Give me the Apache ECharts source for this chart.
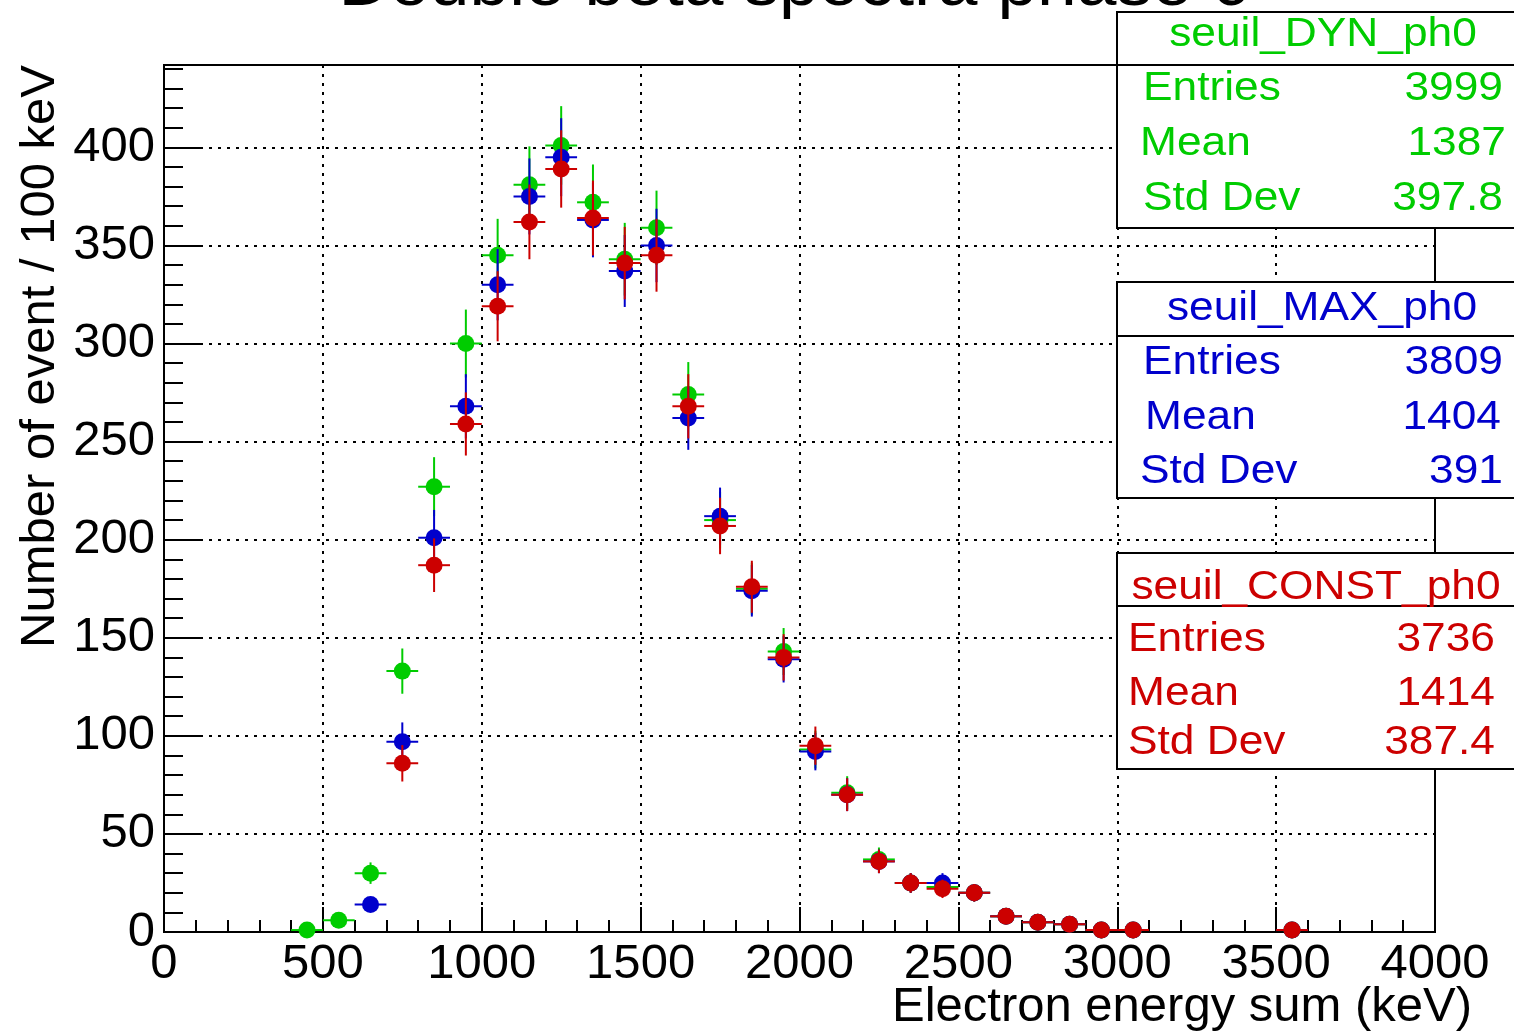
<!DOCTYPE html>
<html><head><meta charset="utf-8">
<script src="https://cdn.jsdelivr.net/npm/echarts@6/dist/echarts.min.js"></script>
<style>html,body{margin:0;padding:0;background:#fff}#c{width:1514px;height:1031px}</style>
</head><body><div id="c"></div>
<script>
// bin centres (keV), 100 keV bins
const binCenters = [450,550,650,750,850,950,1050,1150,1250,1350,1450,1550,1650,1750,1850,1950,2050,2150,2250,2350,2450,2550,2650,2750,2850,2950,3050,3150,3250,3350,3450,3550];
const dynCounts   = [1,6,30,133,227,300,345,381,401,372,343,359,274,210,175,143,93,71,37,25,23,20,8,5,4,1,1,null,null,null,null,1];
const maxCounts   = [null,null,14,97,201,268,330,375,395,363,337,350,262,212,174,139,92,70,36,25,25,20,8,5,4,1,1,null,null,null,null,1];
const constCounts = [null,null,null,86,187,259,319,362,389,364,341,345,268,207,176,140,95,70,36,25,22,20,8,5,4,1,1,null,null,null,null,1];
const binHalfWidth = 50;

const seriesNames = ['seuil_DYN_ph0','seuil_MAX_ph0','seuil_CONST_ph0'];
const seriesColors = ['#00cc00','#0000cc','#cc0000'];
const statEntries = ['3999','3809','3736'];
const statMean = ['1387','1404','1414'];
const statStd = ['397.8','391','387.4'];

const titleText = 'Double beta spectra phase 0';
const xTitle = 'Electron energy sum (keV)';
const yTitle = 'Number of event / 100 keV';

const FONT = "'Liberation Sans', Arial, Helvetica, sans-serif";

function toData(counts){
  const out = [];
  counts.forEach((v,i)=>{ if(v!==null) out.push([binCenters[i], v, Math.sqrt(v)]); });
  return out;
}
function makeRender(color){
  return function(params, api){
    const x=api.value(0), y=api.value(1), e=api.value(2);
    const c=api.coord([x,y]);
    const t=api.coord([x,y+e]);
    const b=api.coord([x,Math.max(0,y-e)]);
    const l=api.coord([x-binHalfWidth,y]);
    const r=api.coord([x+binHalfWidth,y]);
    return {type:'group', children:[
      {type:'line', shape:{x1:l[0],y1:c[1],x2:r[0],y2:c[1]}, style:{stroke:color,lineWidth:2}},
      {type:'line', shape:{x1:c[0],y1:t[1],x2:c[0],y2:b[1]}, style:{stroke:color,lineWidth:2}},
      {type:'circle', shape:{cx:c[0],cy:c[1],r:8.5}, style:{fill:color}}
    ]};
  };
}

function txt(x,y,text,color,size,align,opts){
  opts = opts||{};
  return {type:'text', x:x, y:y, z:200, scaleX:opts.scaleX||1, rotation:opts.rotation||0,
    style:{text:text, x:0, y:0, fill:color, font: size+'px '+FONT,
      textAlign:align, align:align, textVerticalAlign:'middle', verticalAlign:'middle'}};
}

const boxes = [
  {top:12, sep:65, bottom:228, titleX:1323, titleY:35, labelX:[1143,1140,1143], valueX:[1503,1506,1503], rows:[89,144,199]},
  {top:282, sep:336, bottom:498, titleX:1322, titleY:309, labelX:[1143,1145,1140], valueX:[1503,1501,1503], rows:[363,418,472]},
  {top:553, sep:606, bottom:769, titleX:1316, titleY:588, labelX:[1128,1128,1128], valueX:[1495,1495,1495], rows:[640,694,743]}
];

const graphics = [];
boxes.forEach((bx,i)=>{
  const col = seriesColors[i];
  graphics.push({type:'rect', z:150, shape:{x:1117, y:bx.top, width:430, height:bx.bottom-bx.top}, style:{fill:'#fff', stroke:'#000', lineWidth:2}});
  graphics.push({type:'line', z:151, shape:{x1:1117, y1:bx.sep, x2:1550, y2:bx.sep}, style:{stroke:'#000', lineWidth:2}});
  graphics.push(txt(bx.titleX, bx.titleY, seriesNames[i], col, 41, 'center', {scaleX:1.08}));
  const labels = ['Entries','Mean','Std Dev'];
  const vals = [statEntries[i], statMean[i], statStd[i]];
  for(let k=0;k<3;k++){
    graphics.push(txt(bx.labelX[k], bx.rows[k], labels[k], col, 41, 'left', {scaleX:1.08}));
    graphics.push(txt(bx.valueX[k], bx.rows[k], vals[k], col, 41, 'right', {scaleX:1.08}));
  }
});
graphics.push(txt(795, -14, titleText, '#000', 68, 'center', {scaleX:1.05}));
graphics.push(txt(1472, 1007, xTitle, '#000', 49, 'right'));
graphics.push(txt(40, 65, yTitle, '#000', 49, 'right', {rotation:Math.PI/2}));

const chart = echarts.init(document.getElementById('c'), null, {renderer:'canvas'});
chart.setOption({
  backgroundColor:'#fff',
  animation:false,
  grid:{left:164, top:65, width:1271, height:867, show:true, borderColor:'#000', borderWidth:2, backgroundColor:'transparent'},
  xAxis:{type:'value', min:0, max:4000, interval:500,
    axisLine:{show:true, onZero:false, lineStyle:{color:'#000', width:2}},
    axisTick:{show:true, inside:true, length:25, lineStyle:{color:'#000', width:2}},
    minorTick:{show:true, splitNumber:5, length:12, lineStyle:{color:'#000', width:2}},
    axisLabel:{color:'#000', fontSize:49, fontFamily:FONT, margin:8, showMinLabel:true, showMaxLabel:true,
      formatter:function(v){return String(v);}},
    splitLine:{show:true, lineStyle:{color:'#000', width:2, type:[3,6]}}
  },
  yAxis:[
    {type:'value', min:0, max:442, interval:50, position:'left',
      axisLine:{show:true, onZero:false, lineStyle:{color:'#000', width:2}},
      axisTick:{show:true, inside:true, length:38, lineStyle:{color:'#000', width:2}},
      axisLabel:{color:'#000', fontSize:49, fontFamily:FONT, margin:9, showMaxLabel:false,
        formatter:function(v){return String(v);}},
      splitLine:{show:true, lineStyle:{color:'#000', width:2, type:[3,6]}}
    },
    {type:'value', min:0, max:442, interval:10, position:'left', offset:0,
      axisLine:{show:false},
      axisTick:{show:true, inside:true, length:19, lineStyle:{color:'#000', width:2}},
      axisLabel:{show:false},
      splitLine:{show:false}
    }
  ],
  series:[dynCounts, maxCounts, constCounts].map((arr,i)=>({
    type:'custom', name:seriesNames[i], xAxisIndex:0, yAxisIndex:0,
    data:toData(arr), encode:{x:0, y:1}, clip:false, silent:true,
    renderItem:makeRender(seriesColors[i])
  })),
  graphic:graphics
});
</script></body></html>
